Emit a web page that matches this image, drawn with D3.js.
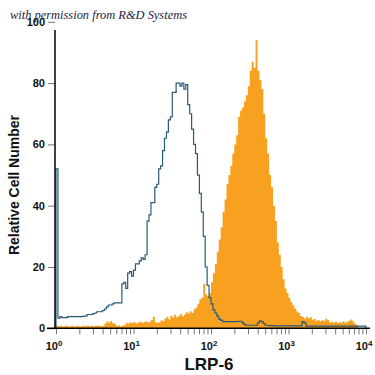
<!DOCTYPE html>
<html>
<head>
<meta charset="utf-8">
<script src="https://cdn.jsdelivr.net/npm/d3@7"></script>
<style>
body { margin: 0; background: #fff; }
.lbl { font-family: "Liberation Sans Narrow", "Arial Narrow", "Liberation Sans", sans-serif; font-weight: bold; fill: #111; }
</style>
</head>
<body>
<div class="chart"></div>
<script>
// fluorescence channels: 160 log bins over 4 decades
const nBins = 160;
const decades = 4;
const channels = d3.range(nBins + 1).map(i => Math.pow(10, i * decades / nBins));

// LRP-6 stained cells (filled orange)
const stained = [
  0.8,0.7,0.8,0.6,0.7,0.8,0.7,0.6,0.8,0.7, 0.7,0.8,0.6,0.7,0.8,0.7,0.9,0.7,0.8,0.7,
  0.8,0.9,0.8,0.7,0.8,1.6,2.2,1.8,2.4,1.7, 1.4,0.8,0.9,0.7,0.9,1.0,1.8,1.5,2.0,1.7,
  2.1,1.6,1.9,2.2,1.8,2.0,2.3,1.9,2.1,2.8, 3.8,2.0,1.8,2.0,2.6,2.4,3.2,3.8,2.9,4.1,
  3.5,4.4,3.6,4.0,4.7,3.9,4.5,5.2,4.8,5.6, 5.0,6.2,6.8,8.0,9.5,10,14.5,11,10.5,11.5,
  15,18,21,25,29,33,38,42,47,50, 53,57,60,63,69,71,72,74,76,79,
  84,87,85,94,84,81,78,70,62,57, 50,46,40,35,28,24,20,16,13,11.5,
  10,8.5,7.5,6.5,5.5,5,4,3.7,3.2,3.8, 3.3,3.6,2.8,3.0,2.5,2.7,2.3,2.6,2.4,3.1,
  2.7,1.9,2.1,1.8,2.2,1.7,2.0,1.9,2.3,1.8, 2.1,2.5,2.9,2.2,1.5,1.0,0,0,0,0
];

// isotype control (blue outline)
const control = [
  52,3.3,3.8,3.5,3.5,3.5,3.8,3.8,3.8,3.8, 3.8,3.8,3.8,3.8,4.0,4.0,4.5,4.5,4.5,4.8,
  5.0,5.4,5.4,5.4,5.8,6.3,7.0,7.6,7.6,8.0, 8.3,8.3,8.3,8.3,14.5,15,13,18,18.5,17,
  19,21,21,22,23,22.5,24,35,37,41, 41,46,47,52,53,58,62,64,68,69,
  77,77,80,80,79,80,78,79.5,73,70, 65,60,57,50,44,38,30,20,14,10,
  8,6,5,4,3,2.6,2.2,2.2,2.2,2.2, 2.2,2.2,2.2,2.2,2.3,2.3,1.8,1.2,1.0,1.0,
  1.0,1.0,1.0,1.0,1.8,2.4,2.2,1.5,1.0,1.0, 0.9,0.9,0.9,0.8,0.8,0.8,0.8,0.8,0.8,0.8,
  0.8,0.8,0.8,0.8,0.8,0.8,0.8,2.2,1.8,0.7, 0.7,0.7,0.7,0.7,0.7,0.7,0.7,0.7,0.7,0.7,
  0.7,0.7,0.7,0.7,0.7,0.7,0.7,0.7,0.7,0.7, 0.7,0.7,0.7,0.7,0.7,0.7,0.7,0.7,0.7,0.7
];

const xMajor = [1, 10, 100, 1000, 10000];
const xExp = ['0', '1', '2', '3', '4'];
const yTicks = [0, 20, 40, 60, 80, 100];

const width = 375, height = 375;
const svg = d3.select('.chart')
  .append('svg')
  .attr('width', width)
  .attr('height', height);

const xScale = d3.scaleLog().domain([1, 10000]).range([56, 366]);
const yScale = d3.scaleLinear().domain([0, 100]).range([328.3, 21.8]);

// orange filled histogram
const area = d3.area()
  .x(d => xScale(d[0]))
  .y0(yScale(0))
  .y1(d => yScale(d[1]))
  .curve(d3.curveStepAfter);

const stPts = stained.map((v, i) => [channels[i], v]);
stPts.push([channels[nBins], stained[nBins - 1]]);

svg.append('path')
  .attr('d', area(stPts))
  .attr('fill', '#f8a01f');

// blue outline histogram
const line = d3.line()
  .x(d => xScale(d[0]))
  .y(d => yScale(d[1]))
  .curve(d3.curveStepAfter);

const ctPts = [[channels[0], 0]].concat(control.map((v, i) => [channels[i], v]));
ctPts.push([channels[nBins], control[nBins - 1]]);
ctPts.push([channels[nBins], 0]);

svg.append('path')
  .attr('d', line(ctPts))
  .attr('fill', 'none')
  .attr('stroke', '#285a78')
  .attr('stroke-width', 1.2);

// x axis ticks
const minor = [];
xMajor.slice(0, -1).forEach(m => { for (let k = 2; k < 10; k++) minor.push(m * k); });

const xAxis = d3.axisBottom(xScale)
  .tickValues(xMajor.concat(minor))
  .tickSize(6)
  .tickFormat('');

const gx = svg.append('g')
  .attr('transform', `translate(0, ${yScale(0)})`)
  .call(xAxis);
gx.select('.domain').remove();
gx.selectAll('.tick line').attr('stroke', '#777').attr('stroke-width', 1);

xMajor.forEach((m, i) => {
  const t = svg.append('text')
    .attr('class', 'lbl')
    .attr('x', xScale(m) - 2)
    .attr('y', 350)
    .attr('text-anchor', 'middle')
    .attr('font-size', 11)
    .text('10');
  t.append('tspan')
    .attr('dy', -4)
    .attr('font-size', 8)
    .text(xExp[i]);
});

// y axis ticks
const yAxis = d3.axisLeft(yScale)
  .tickValues(yTicks)
  .tickSize(7)
  .tickPadding(3);

const gy = svg.append('g')
  .attr('transform', `translate(${xScale(1) - 1}, 0)`)
  .call(yAxis);
gy.select('.domain').remove();
gy.selectAll('.tick line').attr('stroke', '#777');
gy.selectAll('.tick text')
  .attr('class', 'lbl')
  .attr('font-size', 11);

// axis lines
svg.append('line')
  .attr('x1', 47).attr('x2', 370)
  .attr('y1', yScale(0)).attr('y2', yScale(0))
  .attr('stroke', '#000').attr('stroke-width', 1.5);

svg.append('line')
  .attr('x1', xScale(1) - 1).attr('x2', xScale(1) - 1)
  .attr('y1', 30).attr('y2', yScale(0))
  .attr('stroke', '#000').attr('stroke-width', 1.5);

// axis titles
svg.append('text')
  .attr('class', 'lbl')
  .attr('x', 209)
  .attr('y', 370)
  .attr('text-anchor', 'middle')
  .attr('font-size', 17)
  .text('LRP-6');

svg.append('text')
  .attr('class', 'lbl')
  .attr('transform', 'translate(19, 185) rotate(-90)')
  .attr('text-anchor', 'middle')
  .attr('font-size', 14)
  .text('Relative Cell Number');

// watermark
svg.append('text')
  .attr('x', 10)
  .attr('y', 19)
  .attr('font-family', '"Liberation Serif", "DejaVu Serif", serif')
  .attr('font-style', 'italic')
  .attr('font-size', 13)
  .attr('fill', '#1c2244')
  .attr('textLength', 177)
  .attr('lengthAdjust', 'spacingAndGlyphs')
  .text('with permission from R&D Systems');
</script>
</body>
</html>
